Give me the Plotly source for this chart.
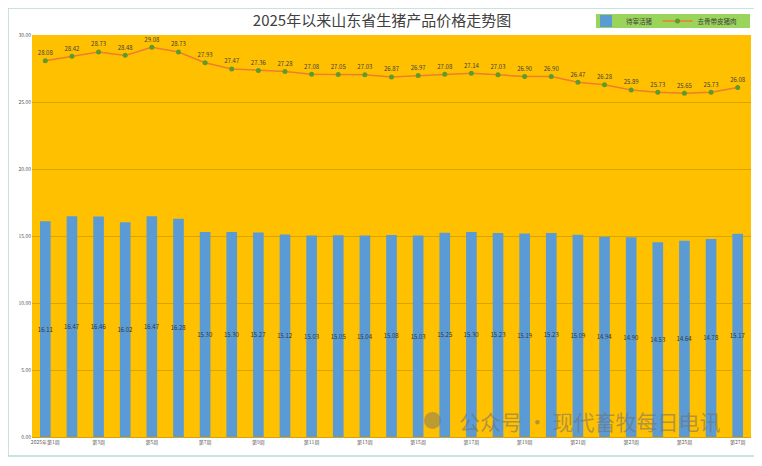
import plotly.graph_objects as go

weeks = ["2025年第1周"] + [f"第{i}周" for i in range(2, 28)]
tick_weeks = [weeks[i] for i in range(0, 27, 2)]

live_pig = [16.11, 16.47, 16.46, 16.02, 16.47, 16.28, 15.30, 15.30, 15.27, 15.12,
            15.03, 15.05, 15.04, 15.08, 15.03, 15.25, 15.30, 15.23, 15.19, 15.23,
            15.09, 14.94, 14.90, 14.53, 14.64, 14.78, 15.17]
pork = [28.08, 28.42, 28.73, 28.48, 29.08, 28.73, 27.93, 27.47, 27.36, 27.28,
        27.08, 27.05, 27.03, 26.87, 26.97, 27.08, 27.14, 27.03, 26.90, 26.90,
        26.47, 26.28, 25.89, 25.73, 25.65, 25.73, 26.08]

title_text = "2025年以来山东省生猪产品价格走势图"
series_names = ["待宰活猪", "去骨带皮猪肉"]
watermark = "公众号 · 现代畜牧每日电讯"

FONT = "Noto Sans CJK SC, Noto Sans, sans-serif"

# page body has an 8px default margin: figure is shifted by OFF px
OFF = 8
W, H = 762 - OFF, 466 - OFF
# plot area in screen coordinates: x 32..751, y 35..437
L, R = 32 - OFF, W - (751 - OFF)
T, B = 35 - OFF, H - (437 - OFF)
PW, PH = W - L - R, H - T - B


def px(x):
    return (x - OFF - L) / PW


def py(y):
    return (H - B - (y - OFF)) / PH


fig = go.Figure()
fig.add_trace(go.Bar(
    x=weeks, y=live_pig, name=series_names[0],
    marker=dict(color="#5B9BD5", line=dict(width=0)),
    width=0.4,
    text=[f"{v:.2f}" for v in live_pig],
    textposition="inside", insidetextanchor="middle", textangle=0,
    insidetextfont=dict(size=6, color="#333333", family=FONT),
    cliponaxis=False,
))
fig.add_trace(go.Scatter(
    x=weeks, y=pork, name=series_names[1],
    mode="lines+markers+text",
    line=dict(color="#ED7D31", width=1.5),
    marker=dict(color="#5E9B2E", size=5),
    text=[f"{v:.2f}" for v in pork],
    textposition="top center",
    textfont=dict(size=6, color="#404040", family=FONT),
    cliponaxis=False,
))

fig.update_layout(
    width=W, height=H,
    margin=dict(l=L, r=R, t=T, b=B, autoexpand=False),
    paper_bgcolor="white",
    plot_bgcolor="#FFC000",
    font=dict(family=FONT, size=6, color="#404040"),
    title=dict(text=title_text, x=(382 - OFF) / W, xanchor="center",
               y=1 - (21 - OFF) / H, yanchor="middle",
               font=dict(size=15, color="#404040", family=FONT)),
    showlegend=True,
    legend=dict(orientation="h", x=px(586), xanchor="left", y=py(21), yanchor="middle",
                bgcolor="rgba(0,0,0,0)", font=dict(size=6.5, color="#404040"),
                itemwidth=30, tracegroupgap=0),
    bargap=0.6,
    uniformtext=dict(minsize=6, mode="show"),
    xaxis=dict(type="category", categoryorder="array", categoryarray=weeks,
               range=[-0.5, len(weeks) - 0.5],
               tickmode="array", tickvals=tick_weeks, ticktext=tick_weeks,
               tickfont=dict(size=5, color="#595959"), tickangle=0,
               showgrid=False, showline=True, linecolor="#D9A400", linewidth=1,
               ticks="", automargin=False),
    yaxis=dict(range=[0, 30], tickvals=[0, 5, 10, 15, 20, 25, 30],
               ticktext=["0.00", "5.00", "10.00", "15.00", "20.00", "25.00", "30.00"],
               tickfont=dict(size=5, color="#595959"),
               showgrid=True, gridcolor="#D9A400", gridwidth=1,
               zeroline=False, showline=False, ticks="", automargin=False),
    shapes=[
        dict(type="rect", xref="paper", yref="paper",
             x0=px(8), x1=px(757), y0=py(456), y1=py(8),
             line=dict(color="#B8DCD6", width=1.5), layer="below"),
        dict(type="rect", xref="paper", yref="paper",
             x0=px(596), x1=px(750), y0=py(28), y1=py(14),
             fillcolor="#9BD45A", line=dict(width=0), layer="below"),
        dict(type="circle", xref="paper", yref="paper",
             x0=px(424), x1=px(441), y0=py(429), y1=py(412),
             fillcolor="rgba(110,110,110,0.45)", line=dict(width=0), layer="above"),
    ],
    annotations=[dict(text=watermark, xref="paper", yref="paper",
                      x=px(589), y=py(421), xanchor="center", yanchor="middle",
                      showarrow=False,
                      font=dict(size=21, color="rgba(110,110,110,0.55)", family=FONT))],
)

fig.write_html("out.html")
